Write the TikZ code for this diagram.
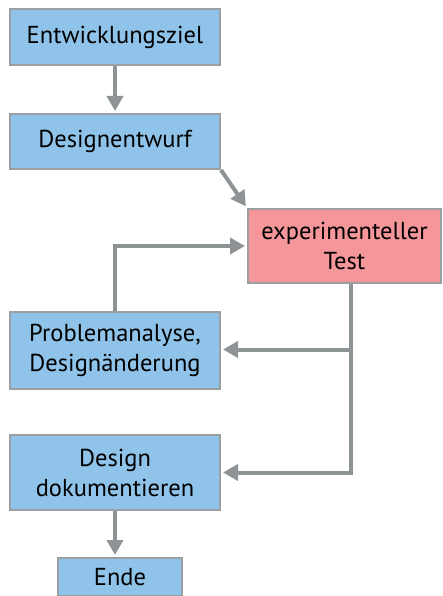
\documentclass[tikz,border=0pt]{standalone}
\usepackage{fontspec}
\setmainfont{PT Sans}
\usetikzlibrary{arrows.meta}
\definecolor{boxblue}{HTML}{8FC3E9}
\definecolor{boxpink}{HTML}{F4969A}
\definecolor{edgegray}{HTML}{9A9FA2}
\definecolor{arrowgray}{HTML}{8E9396}
\begin{document}
\begin{tikzpicture}[x=1pt,y=-1pt,
  box/.style={draw=edgegray, line width=2pt, fill=boxblue, align=center,
    font=\fontsize{24.5}{30}\selectfont, inner sep=0pt, anchor=north west},
  conn/.style={draw=arrowgray, line width=4pt, shorten >=2pt,
    -{Triangle[length=15pt,width=16pt]}}]
\useasboundingbox (0,0) rectangle (442,596);
\node[box, minimum width=210pt, minimum height=56pt] (ziel) at (9,8) {Entwicklungsziel};
\node[box, minimum width=210pt, minimum height=55pt] (entwurf) at (9,113) {Designentwurf};
\node[box, fill=boxpink, minimum width=193pt, minimum height=74pt] (test) at (247,208) {experimenteller\\Test};
\node[box, minimum width=210pt, minimum height=77pt] (prob) at (9,311) {Problemanalyse,\\Designänderung};
\node[box, minimum width=210pt, minimum height=75pt] (doku) at (9,434) {Design\\dokumentieren};
\node[box, minimum width=124pt, minimum height=38pt] (ende) at (57,557) {Ende};
\coordinate (j) at (351,349.5);
\draw[conn] (ziel) -- (entwurf);
\draw[conn] (entwurf.south east) -- (test.north west);
\draw[conn] (prob.north) |- (test.west);
\draw[conn] (test.south -| j) |- (doku.east);
\draw[conn] (j) -- (j -| prob.east);
\draw[conn] (doku.south) -- (doku.south |- ende.north);
\end{tikzpicture}
\end{document}
